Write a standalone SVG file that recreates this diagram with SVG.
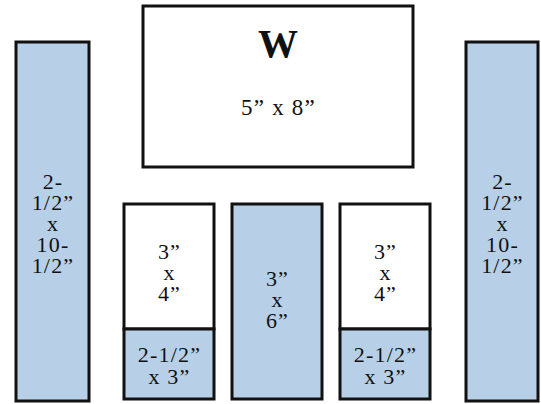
<svg xmlns="http://www.w3.org/2000/svg" width="541" height="404" viewBox="0 0 541 404" font-family="'Liberation Serif', 'Times New Roman', serif">
<style>
rect{stroke:#111;stroke-width:3}
.b{fill:#b7d0e7}
.w{fill:#fff}
text{font-size:22px;fill:#111;text-anchor:middle;letter-spacing:1.2px}
.big{font-size:40px;font-weight:bold;letter-spacing:0}
</style>
<rect width="541" height="404" fill="#fff" style="stroke:none"/>
<g id="left-tall">
<rect class="b" x="16" y="42" width="73" height="359"/>
<text x="53" y="189">2-</text>
<text x="53" y="210">1/2”</text>
<text x="53" y="231">x</text>
<text x="53" y="252">10-</text>
<text x="53" y="273">1/2”</text>
</g>
<g id="w-box">
<rect class="w" x="143" y="6" width="270" height="161"/>
<text class="big" x="278" y="57">W</text>
<text x="278.5" y="115" style="font-size:23px">5” x 8”</text>
</g>
<g id="left-small-top">
<rect class="w" x="124" y="204" width="90" height="125"/>
<text x="169.5" y="259">3”</text>
<text x="169.5" y="280">x</text>
<text x="169.5" y="301">4”</text>
</g>
<g id="left-small-bottom">
<rect class="b" x="124" y="329" width="90" height="70"/>
<text x="169.5" y="362">2-1/2”</text>
<text x="169.5" y="384">x 3”</text>
</g>
<g id="middle">
<rect class="b" x="232" y="204" width="90" height="195"/>
<text x="277.5" y="286">3”</text>
<text x="277.5" y="307">x</text>
<text x="277.5" y="328">6”</text>
</g>
<g id="right-small-top">
<rect class="w" x="340" y="204" width="90" height="125"/>
<text x="385.5" y="259">3”</text>
<text x="385.5" y="280">x</text>
<text x="385.5" y="301">4”</text>
</g>
<g id="right-small-bottom">
<rect class="b" x="340" y="329" width="90" height="70"/>
<text x="385.5" y="362">2-1/2”</text>
<text x="385.5" y="384">x 3”</text>
</g>
<g id="right-tall">
<rect class="b" x="466" y="42" width="72" height="359"/>
<text x="502.5" y="189">2-</text>
<text x="502.5" y="210">1/2”</text>
<text x="502.5" y="231">x</text>
<text x="502.5" y="252">10-</text>
<text x="502.5" y="273">1/2”</text>
</g>
<g id="connectors"/>
</svg>
